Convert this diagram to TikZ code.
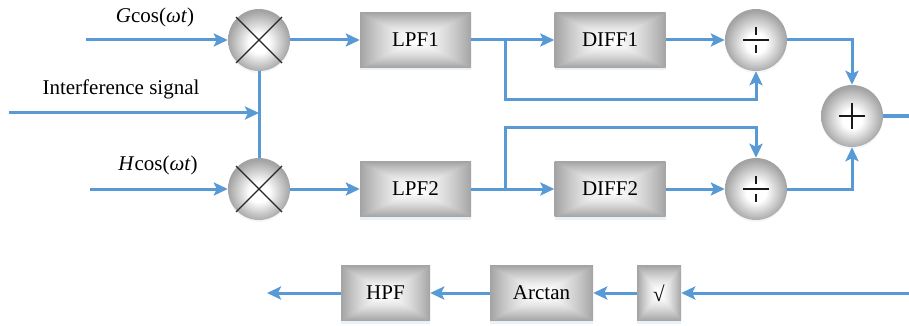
\documentclass[tikz,border=0pt]{standalone}
\usepackage{fontspec}
\setmainfont{Liberation Serif}
\usetikzlibrary{arrows.meta,shadows}
\definecolor{lineblue}{RGB}{88,154,213}
\pgfdeclarefunctionalshading{boxshade}{\pgfpoint{-50bp}{-50bp}}{\pgfpoint{50bp}{50bp}}{}{
	abs exch abs 2 copy lt {exch} if pop
	25 div dup 1 gt {pop 1} if
	dup sqrt mul 0.36 mul 1 exch sub dup dup}
\pgfdeclareradialshading{ballshade}{\pgfpoint{0bp}{-3bp}}{color(0bp)=(white); color(8bp)=(white); color(25bp)=(black!36); color(50bp)=(black!36)}

\begin{document}
\begin{tikzpicture}[x=1pt,y=-1pt,
	font=\fontsize{21}{24}\selectfont,
	wire/.style={draw=lineblue,line width=3pt},
	arr/.style={wire,-{Stealth[length=14pt,width=13pt,inset=3pt]}},
	blk/.style={rectangle,inner sep=0pt,minimum height=55pt,shading=boxshade,
		drop shadow={shadow xshift=0pt,shadow yshift=-3pt,fill=lineblue!25,opacity=0.5}},
	ball/.style={circle,inner sep=0pt,minimum size=62pt,shading=ballshade,
		drop shadow={shadow xshift=0pt,shadow yshift=-2pt,fill=lineblue!20,opacity=0.4}}]
	\useasboundingbox (0,0) rectangle (909,326);
	
	% multipliers
	\node[ball] (mixA) at (259,40) {};
	\node[ball] (mixB) at (259,189) {};
	\foreach \m in {mixA,mixB}{
		\draw[line width=1.2pt,black!85] (\m.center) ++(-23,-23) -- ++(46,46);
		\draw[line width=1.2pt,black!85] (\m.center) ++(-23,23) -- ++(46,-46);
	}
	
	% filters and differentiators
	\node[blk,minimum width=111pt] (lpfA) at (415.5,40) {LPF1};
	\node[blk,minimum width=111pt] (lpfB) at (415.5,189) {LPF2};
	\node[blk,minimum width=111pt] (diffA) at (610,40) {DIFF1};
	\node[blk,minimum width=111pt] (diffB) at (610,189) {DIFF2};
	
	% dividers
	\node[ball] (divA) at (756,40) {};
	\node[ball] (divB) at (756,189) {};
	\foreach \m in {divA,divB}{
		\draw[line width=1.6pt,black!90] (\m.center) ++(-13,0) -- ++(26,0);
		\draw[line width=1.6pt,black!90] (\m.center) ++(0,-5) -- ++(0,-8);
		\draw[line width=1.6pt,black!90] (\m.center) ++(0,5) -- ++(0,8);
	}
	
	% adder
	\node[ball] (sum) at (852,116) {};
	\draw[line width=1.6pt,black!90] (sum.center) ++(-13,0) -- ++(26,0);
	\draw[line width=1.6pt,black!90] (sum.center) ++(0,-12.5) -- ++(0,25);
	
	% bottom row
	\node[blk,minimum width=44pt] (sqrtb) at (659,293) {√};
	\node[blk,minimum width=103pt] (atan) at (541.5,293) {Arctan};
	\node[blk,minimum width=89pt] (hpf) at (385.5,293) {HPF};
	
	% inputs
	\coordinate (inG) at (86,40);
	\coordinate (inH) at (90,189);
	\coordinate (inI) at (9,113);
	\coordinate (join) at (259,113);
	\node (labG) at (155,17) {\textit{G}cos(\textit{ωt})};
	\node (labH) at (158,165) {\textit{H}cos(\textit{ωt})};
	\node (labI) at (121,89) {Interference signal};
	
	\draw[arr] (inG) -- (mixA);
	\draw[arr] (inH) -- (mixB);
	\draw[wire] (mixA) -- (mixB);
	\draw[arr] (inI) -- (join);
	
	\draw[arr] (mixA) -- (lpfA);
	\draw[arr] (mixB) -- (lpfB);
	\draw[arr] (lpfA) -- (diffA);
	\draw[arr] (lpfB) -- (diffB);
	\draw[arr] (diffA) -- (divA);
	\draw[arr] (diffB) -- (divB);
	
	% branches
	\coordinate (brA) at (505,40);
	\coordinate (brB) at (505,189);
	\draw[arr] (brA) |- (756,100) -- (divA.south);
	\draw[arr] (brB) |- (756,127) -- (divB.north);
	
	\draw[arr] (divA) -| (sum.north);
	\draw[arr] (divB) -| (sum.south);
	\coordinate (outS) at (909,116);
	\draw[wire] (sum) -- (outS);
	
	% bottom chain
	\coordinate (inR) at (909,293);
	\coordinate (outL) at (267,293);
	\draw[arr] (inR) -- (sqrtb);
	\draw[arr] (sqrtb) -- (atan);
	\draw[arr] (atan) -- (hpf);
	\draw[arr] (hpf) -- (outL);
	
\end{tikzpicture}
\end{document}
